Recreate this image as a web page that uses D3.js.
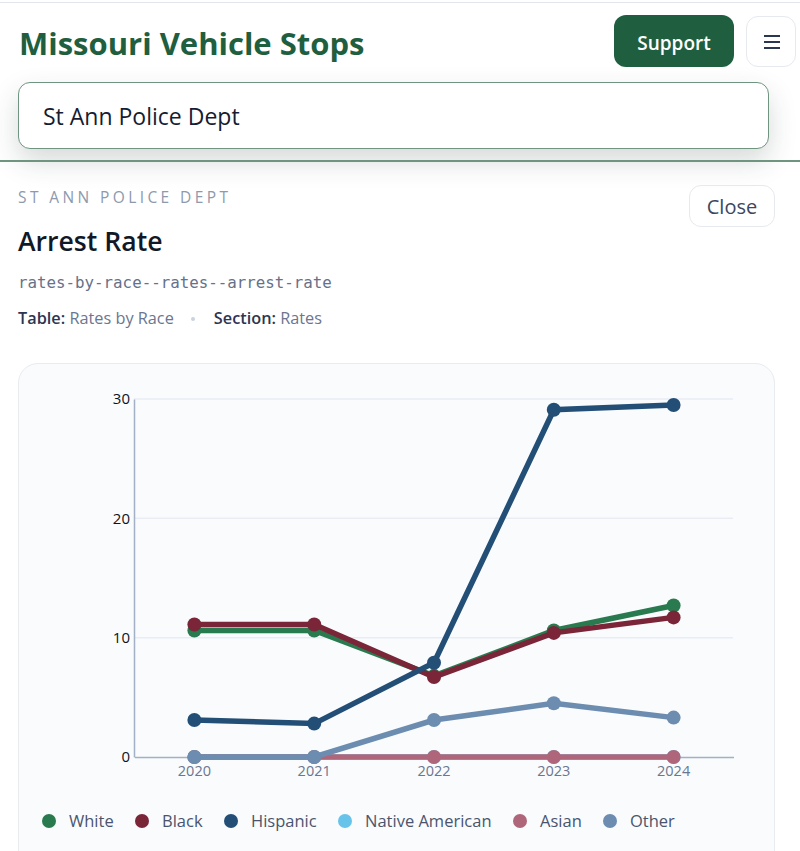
<!DOCTYPE html>
<html>
<head>
<meta charset="utf-8">
<script src="https://cdn.jsdelivr.net/npm/d3@7"></script>
<style>
  html, body { margin: 0; padding: 0; background: #fff; overflow: hidden; }
  body { width: 800px; height: 851px; position: relative; font-family: "Open Sans", sans-serif; }
  .abs { position: absolute; white-space: nowrap; }
  #topline { left: 0; top: 2px; width: 800px; height: 1px; background: #e2e5ea; }
  #brand { left: 19px; top: 22px; font-size: 31px; line-height: 42px; font-weight: 700; color: #1f5f3f; }
  #support { left: 614px; top: 15px; width: 120px; height: 52px; background: #1f5f3f; border-radius: 12px; color: #fff; font-size: 19px; font-weight: 600; line-height: 56px; text-align: center; }
  #menu { left: 746px; top: 16px; width: 50px; height: 51px; border: 1px solid #e6e9ee; border-radius: 12px; box-sizing: border-box; }
  #menu i { position: absolute; left: 17px; width: 16px; height: 2px; background: #2b3652; }
  #search { left: 18px; top: 82px; width: 749px; height: 65px; box-sizing: content-box; border: 1px solid #6f9580; border-radius: 12px; background: #fff; box-shadow: 0 12px 28px rgba(30,50,40,.18); color: #151c33; font-size: 23px; line-height: 66px; text-indent: 24px; }
  #rule { left: 0; top: 160px; width: 800px; height: 2px; background: #6f9580; }
  #eyebrow { left: 18px; top: 187px; font-size: 15.5px; line-height: 20px; letter-spacing: 3.4px; color: #8e99ad; }
  #close { left: 689px; top: 185px; width: 86px; height: 42px; border: 1px solid #e6e9ee; border-radius: 12px; box-sizing: border-box; text-align: center; font-size: 20px; line-height: 42px; color: #3c4760; }
  #title { left: 18px; top: 223px; font-size: 26.6px; line-height: 36px; font-weight: 600; color: #111827; }
  #slug { left: 18px; top: 273px; font-family: "DejaVu Sans Mono", monospace; font-size: 15.8px; line-height: 20px; color: #66718a; }
  #meta { left: 18px; top: 307px; font-size: 16.3px; line-height: 22px; color: #6b7690; }
  #meta b { font-weight: 600; color: #2b3652; }
  #meta .dot { display: inline-block; width: 4px; height: 4px; border-radius: 2px; background: #cbd3df; margin: 0 19px 3px 17px; }
  #panel { left: 18px; top: 363px; width: 757px; height: 520px; box-sizing: border-box; border: 1px solid #e8ebf0; border-radius: 20px; background: #f9fbfd; }
  svg { position: absolute; left: 0; top: 0; }
</style>
</head>
<body>
<div class="abs" id="topline"></div>
<div class="abs" id="brand">Missouri Vehicle Stops</div>
<div class="abs" id="support">Support</div>
<div class="abs" id="menu"><i style="top:18px"></i><i style="top:24px"></i><i style="top:30px"></i></div>
<div class="abs" id="search">St Ann Police Dept</div>
<div class="abs" id="rule"></div>
<div class="abs" id="eyebrow">ST ANN POLICE DEPT</div>
<div class="abs" id="close">Close</div>
<div class="abs" id="title">Arrest Rate</div>
<div class="abs" id="slug">rates-by-race--rates--arrest-rate</div>
<div class="abs" id="meta"><b>Table:</b> Rates by Race<span class="dot"></span><b>Section:</b> Rates</div>
<div class="abs" id="panel"></div>
<svg id="chart" width="800" height="851"></svg>
<script>
// data
let years = ["2020", "2021", "2022", "2023", "2024"];
let seriesNames = ["White", "Black", "Hispanic", "Native American", "Asian", "Other"];
let seriesColors = ["#2a7a4f", "#7a2538", "#234e76", "#68c3ea", "#b0667a", "#6c8cb0"];
let white = [10.6, 10.6, 6.8, 10.6, 12.7];
let black = [11.1, 11.1, 6.7, 10.4, 11.7];
let hispanic = [3.1, 2.8, 7.9, 29.1, 29.5];
let nativeAmerican = [0, 0, 0, 0, 0];
let asian = [0, 0, 0, 0, 0];
let other = [0, 0, 3.1, 4.5, 3.3];
let yTicks = [0, 10, 20, 30];
let legendX = [49, 142, 231, 345, 520, 610];

let seriesValues = [white, black, hispanic, nativeAmerican, asian, other];

let svg = d3.select("#chart");

let x = d3.scaleBand().domain(years).range([134.5, 733.5]);
let y = d3.scaleLinear().domain([0, 30]).range([757, 399]);

// gridlines
svg.append("g").selectAll("line").data(yTicks.slice(1)).join("line")
  .attr("x1", 134).attr("x2", 733)
  .attr("y1", d => y(d)).attr("y2", d => y(d))
  .attr("stroke", "#e9edf3").attr("stroke-width", 1.5);

// axes
let yAxis = svg.append("g").attr("transform", "translate(134,0)")
  .call(d3.axisLeft(y).tickValues(yTicks).tickSize(0).tickPadding(4));
yAxis.select(".domain").attr("stroke", "#a3b1c6").attr("stroke-width", 1.5);
yAxis.selectAll("text").attr("font-family", "Open Sans").attr("font-size", 15).attr("fill", "#0f1320");

let xAxis = svg.append("g").attr("transform", "translate(0,757)")
  .call(d3.axisBottom(x).tickSize(0).tickPadding(9));
xAxis.select(".domain").attr("stroke", "#a3b1c6").attr("stroke-width", 1.5);
xAxis.selectAll("text").attr("font-family", "Open Sans").attr("font-size", 14.5).attr("fill", "#6b7690");

// lines and dots
let line = d3.line().x((d, i) => x(years[i]) + x.bandwidth() / 2).y(d => y(d));

seriesValues.forEach((vals, s) => {
  let g = svg.append("g");
  g.append("path").attr("d", line(vals))
    .attr("fill", "none").attr("stroke", seriesColors[s]).attr("stroke-width", 5.5);
  g.selectAll("circle").data(vals).join("circle")
    .attr("cx", (d, i) => x(years[i]) + x.bandwidth() / 2)
    .attr("cy", d => y(d))
    .attr("r", 7)
    .attr("fill", seriesColors[s]);
});

// legend
let legend = svg.append("g").selectAll("g").data(seriesNames).join("g")
  .attr("transform", (d, i) => `translate(${legendX[i]},821)`);
legend.append("circle").attr("r", 7).attr("fill", (d, i) => seriesColors[i]);
legend.append("text").attr("x", 20).attr("y", 6)
  .attr("font-family", "Open Sans").attr("font-size", 16.5).attr("fill", "#4a556d")
  .text(d => d);
</script>
</body>
</html>
